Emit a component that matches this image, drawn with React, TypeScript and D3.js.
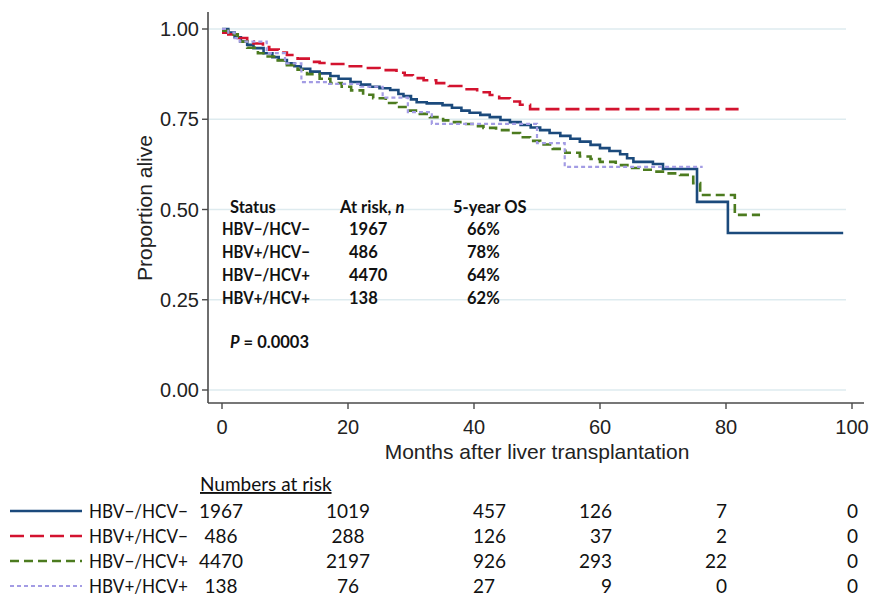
import React from "react";
import * as d3 from "d3";

// ---- Data ----
const groups = ["HBV−/HCV−", "HBV+/HCV−", "HBV−/HCV+", "HBV+/HCV+"];
const atRiskN = ["1967", "486", "4470", "138"];
const fiveYearOS = ["66%", "78%", "64%", "62%"];
const pValueText = "= 0.0003";

// Kaplan–Meier knots: [month, proportion alive]
const kmBlue: [number, number][] = [
  [0, 1.0], [1, 0.99], [2, 0.977], [3, 0.965], [4, 0.956], [5, 0.947], [6.6, 0.933], [8, 0.922], [9, 0.914], [10.3, 0.905],
  [11.5, 0.897], [12.5, 0.89], [14, 0.882], [15.5, 0.877], [17.2, 0.87], [18.5, 0.862], [20.4, 0.853],
  [22, 0.846], [23.5, 0.84], [25, 0.836], [26.7, 0.831], [28, 0.82], [28.8, 0.814], [30, 0.805], [30.9, 0.797],
  [32.5, 0.794], [35, 0.789], [36.5, 0.782], [38, 0.774], [39.3, 0.768], [41, 0.762], [42.5, 0.756],
  [44.2, 0.748], [45.7, 0.742], [47.4, 0.734], [49, 0.727], [50.5, 0.72], [52, 0.712], [53.7, 0.704],
  [55.3, 0.696], [56.8, 0.688], [58.5, 0.679], [60, 0.67], [61.5, 0.662], [63.2, 0.653], [64.3, 0.642],
  [65.3, 0.632], [68.4, 0.626], [70, 0.612], [75.4, 0.521], [80.3, 0.435], [98.6, 0.435],
];
const kmRed: [number, number][] = [
  [0, 0.99], [1, 0.985], [2.5, 0.975], [4, 0.966], [5, 0.96], [6.5, 0.95], [7.5, 0.943], [9, 0.935], [10.3, 0.928],
  [12, 0.918], [14, 0.909], [15.5, 0.906], [17.2, 0.903], [20, 0.897], [22.4, 0.892], [25, 0.886],
  [27.7, 0.879], [29, 0.872], [30.3, 0.864], [32, 0.858], [34, 0.85], [36, 0.842], [38.3, 0.833],
  [40.5, 0.825], [42.5, 0.817], [44, 0.808], [45.7, 0.799], [47.3, 0.79], [48.9, 0.778], [82, 0.778],
];
const kmGreen: [number, number][] = [
  [0, 0.995], [1, 0.985], [2.5, 0.965], [4, 0.948], [5.7, 0.933], [7, 0.924], [8.5, 0.913], [10.3, 0.9],
  [12, 0.887], [13.5, 0.875], [15.5, 0.862], [17.2, 0.85], [19, 0.84], [20.5, 0.83], [22.4, 0.818],
  [24, 0.808], [26, 0.795], [27.7, 0.784], [29.5, 0.774], [31.4, 0.765], [33, 0.756], [35.1, 0.747],
  [36.5, 0.742], [38.3, 0.737], [40, 0.731], [41.5, 0.726], [43.5, 0.72], [45.7, 0.712], [47.3, 0.7],
  [48.9, 0.69], [50.5, 0.68], [52.5, 0.668], [54.5, 0.657], [56.8, 0.647], [58.5, 0.64], [60, 0.632],
  [62.5, 0.623], [64.8, 0.615], [66.5, 0.61], [68.5, 0.605], [70.5, 0.6], [72.7, 0.596], [74.8, 0.573],
  [75.9, 0.54], [81.4, 0.485], [85.4, 0.485],
];
const kmPurple: [number, number][] = [
  [0, 1.0], [1, 0.99], [2, 0.975], [2.8, 0.965], [7.1, 0.933], [10, 0.905], [12.6, 0.853], [17, 0.848], [22, 0.84],
  [25.5, 0.81], [29.5, 0.77], [33.3, 0.737], [50, 0.684], [54.4, 0.618], [76.3, 0.618],
];

const xTicks = [0, 20, 40, 60, 80, 100];
const yTicks = [0, 0.25, 0.5, 0.75, 1.0];
const riskTimes = [0, 20, 40, 60, 80, 100];
const riskBlue = [1967, 1019, 457, 126, 7, 0];
const riskRed = [486, 288, 126, 37, 2, 0];
const riskGreen = [4470, 2197, 926, 293, 22, 0];
const riskPurple = [138, 76, 27, 9, 0, 0];

// ---- Styles ----
const seriesStyle = [
  { color: "#1b4a7c", dash: "none", width: 2.6 },
  { color: "#d3132f", dash: "14,6", width: 2.6 },
  { color: "#4c7b1f", dash: "9,5", width: 2.6 },
  { color: "#a39ce4", dash: "4,3", width: 2.2 },
];
const riskAnchor: ("middle" | "start" | "end")[] = ["middle", "middle", "start", "end", "end", "end"];
const riskDx = [-1, 0, -1, 12, 1, 6];

const AX = "Liberation Sans, Arial, sans-serif";
const CAL = "Lato, Carlito, Calibri, sans-serif";

export default function App() {
  const W = 872, H = 595;
  const x = d3.scaleLinear().domain([0, 100]).range([222, 852]);
  const y = d3.scaleLinear().domain([0, 1]).range([390, 29]);
  const line = d3.line<[number, number]>().x((d) => x(d[0])).y((d) => y(d[1])).curve(d3.curveStepAfter);
  const curves = [kmBlue, kmRed, kmGreen, kmPurple];
  const risks = [riskBlue, riskRed, riskGreen, riskPurple];
  const axisX = 208, axisY = 403;

  const tableRowsY = [235, 258, 281, 304];
  const riskRowsY = [511, 536, 561, 586];

  return (
    <svg width={W} height={H} style={{ position: "absolute", left: 0, top: 0, background: "#fff" }}>
      <rect width={W} height={H} fill="#fff" />
      {/* gridlines */}
      {yTicks.map((t) => (
        <line key={"g" + t} x1={axisX + 1} x2={846} y1={y(t)} y2={y(t)} stroke="#deebef" strokeWidth={1.6} />
      ))}
      {/* axes */}
      <line x1={axisX} x2={axisX} y1={12} y2={axisY} stroke="#4a4a4a" strokeWidth={1.6} />
      <line x1={axisX} x2={864} y1={axisY} y2={axisY} stroke="#4a4a4a" strokeWidth={1.6} />
      {yTicks.map((t) => (
        <g key={"yt" + t}>
          <line x1={axisX - 6} x2={axisX} y1={y(t)} y2={y(t)} stroke="#4a4a4a" strokeWidth={1.4} />
          <text x={199} y={y(t) + 7} textAnchor="end" fontFamily={AX} fontSize={20} fill="#222">
            {d3.format(".2f")(t)}
          </text>
        </g>
      ))}
      {xTicks.map((t) => (
        <g key={"xt" + t}>
          <line x1={x(t)} x2={x(t)} y1={axisY} y2={axisY + 6} stroke="#4a4a4a" strokeWidth={1.4} />
          <text x={x(t)} y={434} textAnchor="middle" fontFamily={AX} fontSize={20} fill="#222">
            {t}
          </text>
        </g>
      ))}
      <text x={537} y={459} textAnchor="middle" fontFamily={AX} fontSize={21} fill="#222">
        Months after liver transplantation
      </text>
      <text transform="translate(152,208) rotate(-90)" textAnchor="middle" fontFamily={AX} fontSize={21} fill="#222">
        Proportion alive
      </text>

      {/* curves */}
      {curves.map((c, i) => (
        <path key={"c" + i} d={line(c) || ""} fill="none" stroke={seriesStyle[i].color}
          strokeWidth={seriesStyle[i].width} strokeDasharray={seriesStyle[i].dash} />
      ))}

      {/* inset table */}
      <g fontFamily={CAL} fontWeight="bold" fontSize={16.5} fill="#111">
        <text x={230} y={213}>Status</text>
        <text x={340} y={213}>At risk, <tspan fontStyle="italic">n</tspan></text>
        <text x={453} y={213}>5-year OS</text>
        {groups.map((g, i) => (
          <g key={"tr" + i}>
            <text x={222} y={tableRowsY[i]} textLength={88} lengthAdjust="spacingAndGlyphs">{g}</text>
            <text x={349} y={tableRowsY[i]}>{atRiskN[i]}</text>
            <text x={467} y={tableRowsY[i]}>{fiveYearOS[i]}</text>
          </g>
        ))}
        <text x={230} y={348}>
          <tspan fontStyle="italic">P</tspan> {pValueText}
        </text>
      </g>

      {/* numbers at risk */}
      <g fontFamily={CAL} fontSize={19} fill="#111">
        <text x={200} y={491} textDecoration="underline">Numbers at risk</text>
        {groups.map((g, i) => (
          <g key={"rr" + i}>
            <line x1={10} x2={82} y1={riskRowsY[i]} y2={riskRowsY[i]} stroke={seriesStyle[i].color}
              strokeWidth={seriesStyle[i].width} strokeDasharray={seriesStyle[i].dash} />
            <text x={89} y={riskRowsY[i] + 6.5} textLength={99} lengthAdjust="spacingAndGlyphs">{g}</text>
            {riskTimes.map((t, j) => (
              <text key={"n" + j} x={x(t) + riskDx[j]} y={riskRowsY[i] + 6.5} textAnchor={riskAnchor[j]}>
                {risks[i][j]}
              </text>
            ))}
          </g>
        ))}
      </g>
    </svg>
  );
}
